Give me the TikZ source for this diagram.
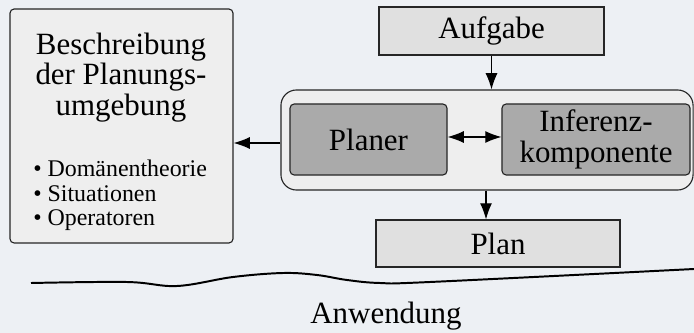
\documentclass[tikz,border=0pt]{standalone}
\usepackage{fontspec}
\setmainfont{Liberation Serif}
\usepackage{tikz}
\usetikzlibrary{arrows.meta, positioning}
\definecolor{bgcol}{RGB}{237,240,244}
\definecolor{lightbox}{RGB}{238,238,238}
\definecolor{midbox}{RGB}{224,224,224}
\definecolor{darkbox}{RGB}{170,170,170}

\begin{document}
\begin{tikzpicture}[
    x=0.025cm, y=-0.025cm,
    font=\fontsize{22}{21.5}\selectfont,
    flat box/.style={rectangle, draw=black!85, line width=0.8pt, fill=midbox, inner sep=0pt},
    round box/.style={rectangle, rounded corners=3pt, draw=black!85, line width=0.8pt, fill=lightbox, inner sep=0pt},
    part box/.style={rectangle, rounded corners=3pt, draw=black!85, line width=0.8pt, fill=darkbox, inner sep=0pt, align=center},
    arr/.style={line width=0.8pt, -{Latex[length=11.5pt, width=8.5pt]}},
    both arr/.style={line width=0.8pt, {Latex[length=11.5pt, width=8.5pt]}-{Latex[length=11.5pt, width=8.5pt]}},
    list text/.style={font=\fontsize{17}{17.4}\selectfont, align=left, inner sep=0pt}
]
    % Background
    \fill[bgcol] (0,0) rectangle (694,333);
    \useasboundingbox (0,0) rectangle (694,333);

    % Boxes
    \node[round box, minimum width=5.575cm, minimum height=5.85cm] (env) at (121.5,126) {};
    \node[flat box, minimum width=5.625cm, minimum height=1.2cm] (task) at (491.5,31) {Aufgabe};
    \node[round box, rounded corners=11pt, minimum width=10.3cm, minimum height=2.5cm] (core) at (487,140) {};
    \node[part box, minimum width=3.925cm, minimum height=1.775cm] (planer) at (368.5,139.5) {Planer};
    \node[part box, minimum width=4.7cm, minimum height=1.775cm] (infer) at (596,139.5) {Inferenz-\\komponente};
    \node[flat box, minimum width=6.1cm, minimum height=1.175cm] (plan) at (498,243.5) {Plan};

    % Texts
    \node[align=center, inner sep=0pt, anchor=north] (envtitle) at (121,33) {Beschreibung\\der Planungs-\\umgebung};
    \node[list text, anchor=north west] (envlist) at (33,160) {\textbullet\ Domänentheorie\\\textbullet\ Situationen\\\textbullet\ Operatoren};
    \node[inner sep=0pt, anchor=base] (use) at (386,323) {Anwendung};

    % Edges
    \coordinate (down) at (486,0);
    \coordinate (side) at (0,143);
    \draw[arr] (task.south) -- (task.south |- core.north);
    \draw[arr] (core.south -| down) -- (plan.north -| down);
    \draw[both arr] (planer.east |- 0,137) -- (infer.west |- 0,137);
    \draw[arr] (core.west |- side) -- (env.east |- side);

    % Divider
    \draw[line width=1.4pt] plot[smooth, tension=0.6] coordinates {(31,283) (127,282) (177,286) (233,277) (283,273) (317,275) (347,280) (380,283) (430,282) (694,269)};
\end{tikzpicture}
\end{document}
